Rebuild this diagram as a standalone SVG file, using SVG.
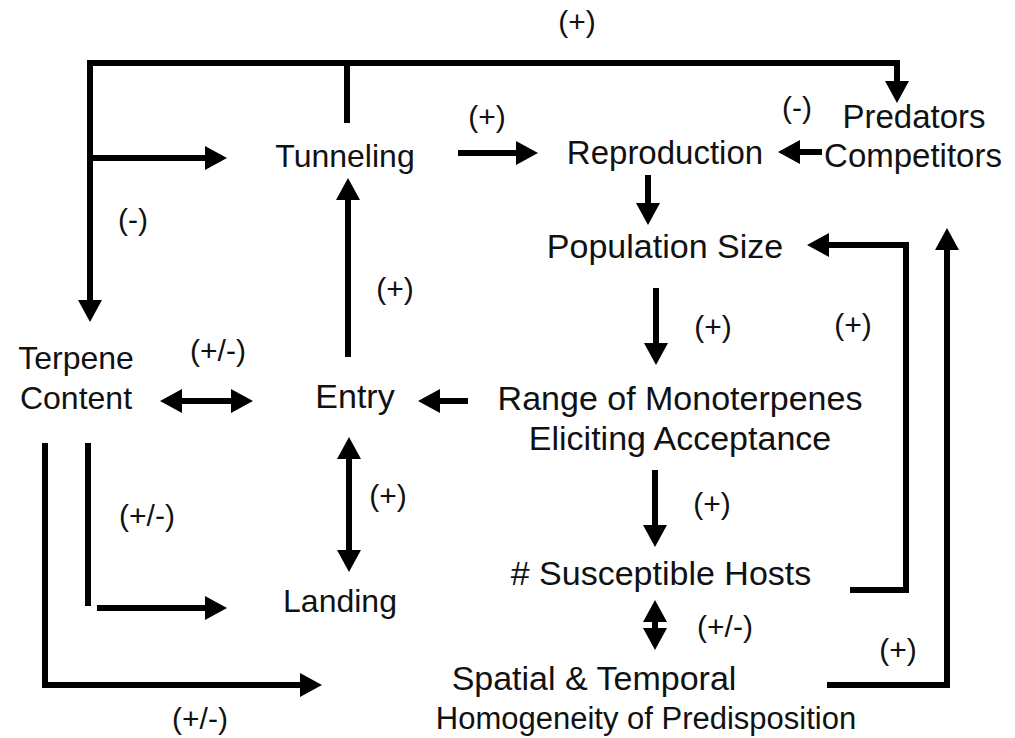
<svg xmlns="http://www.w3.org/2000/svg" width="1015" height="738" viewBox="0 0 1015 738">
<style>
  text { font-family: "Liberation Sans", Arial, sans-serif; font-size: 33px; fill: #111; text-anchor: middle; }
  .sign { font-size: 30px; }
  .s32 { font-size: 32px; }
  .s34 { font-size: 34px; }
  .s31 { font-size: 31px; }
  .c { fill: none; stroke: #000; stroke-width: 6; stroke-linejoin: miter; stroke-linecap: butt; }
  .a { marker-end: url(#ah); }
  .d { marker-start: url(#ah); marker-end: url(#ah); }
</style>
<defs>
  <marker id="ah" viewBox="0 0 22 24" refX="6" refY="12" markerWidth="22" markerHeight="24" markerUnits="userSpaceOnUse" orient="auto-start-reverse">
    <path d="M0,0 L22,12 L0,24 z" fill="#000"/>
  </marker>
</defs>
<rect width="1015" height="738" fill="#fff"/>

<g id="connectors">
  <path class="c" d="M90,306 V63 H897 V87" marker-start="url(#ah)" marker-end="url(#ah)"/>
  <path class="c a" d="M90,158 H211"/>
  <path class="c" d="M347,63 V123"/>
  <path class="c a" d="M458,153 H522"/>
  <path class="c a" d="M822,152 H794"/>
  <path class="c a" d="M648,175 V209"/>
  <path class="c a" d="M656,288 V349"/>
  <path class="c a" d="M655,470 V531"/>
  <path class="c d" d="M655,616 V634"/>
  <path class="c a" d="M850,590 H906 V245 H823"/>
  <path class="c a" d="M827,685 H947 V244"/>
  <path class="c a" d="M468,401 H434"/>
  <path class="c d" d="M176,401 H237"/>
  <path class="c a" d="M348,357 V194"/>
  <path class="c d" d="M349,453 V556"/>
  <path class="c" d="M88,443 V606"/>
  <path class="c a" d="M97,608 H211"/>
  <path class="c a" d="M45,443 V685 H306"/>
</g>

<g id="node-tunneling"><text class="s32" x="345" y="167">Tunneling</text></g>
<g id="node-reproduction"><text x="665" y="164">Reproduction</text></g>
<g id="node-predators"><text x="914" y="128">Predators</text><text x="913" y="167">Competitors</text></g>
<g id="node-population"><text class="s34" x="665" y="258">Population Size</text></g>
<g id="node-terpene"><text class="s32" x="76" y="369">Terpene</text><text class="s32" x="76" y="409">Content</text></g>
<g id="node-entry"><text class="s34" x="355" y="408">Entry</text></g>
<g id="node-range"><text class="s34" x="680" y="410">Range of Monoterpenes</text><text class="s34" x="680" y="450">Eliciting Acceptance</text></g>
<g id="node-landing"><text class="s32" x="340" y="612">Landing</text></g>
<g id="node-hosts"><text class="s34" x="661" y="585">#  Susceptible Hosts</text></g>
<g id="node-spatial"><text class="s34" x="594" y="690">Spatial &amp; Temporal</text><text class="s31" x="646" y="729">Homogeneity of Predisposition</text></g>

<g id="labels">
  <text class="sign" x="577" y="32">(+)</text>
  <text class="sign" x="487" y="127">(+)</text>
  <text class="sign" x="797" y="118">(-)</text>
  <text class="sign" x="133" y="230">(-)</text>
  <text class="sign" x="395" y="299">(+)</text>
  <text class="sign" x="713" y="337">(+)</text>
  <text class="sign" x="853" y="335">(+)</text>
  <text class="sign" x="218" y="361">(+/-)</text>
  <text class="sign" x="147" y="526">(+/-)</text>
  <text class="sign" x="388" y="506">(+)</text>
  <text class="sign" x="712" y="514">(+)</text>
  <text class="sign" x="725" y="637">(+/-)</text>
  <text class="sign" x="898" y="660">(+)</text>
  <text class="sign" x="200" y="729">(+/-)</text>
</g>
</svg>
